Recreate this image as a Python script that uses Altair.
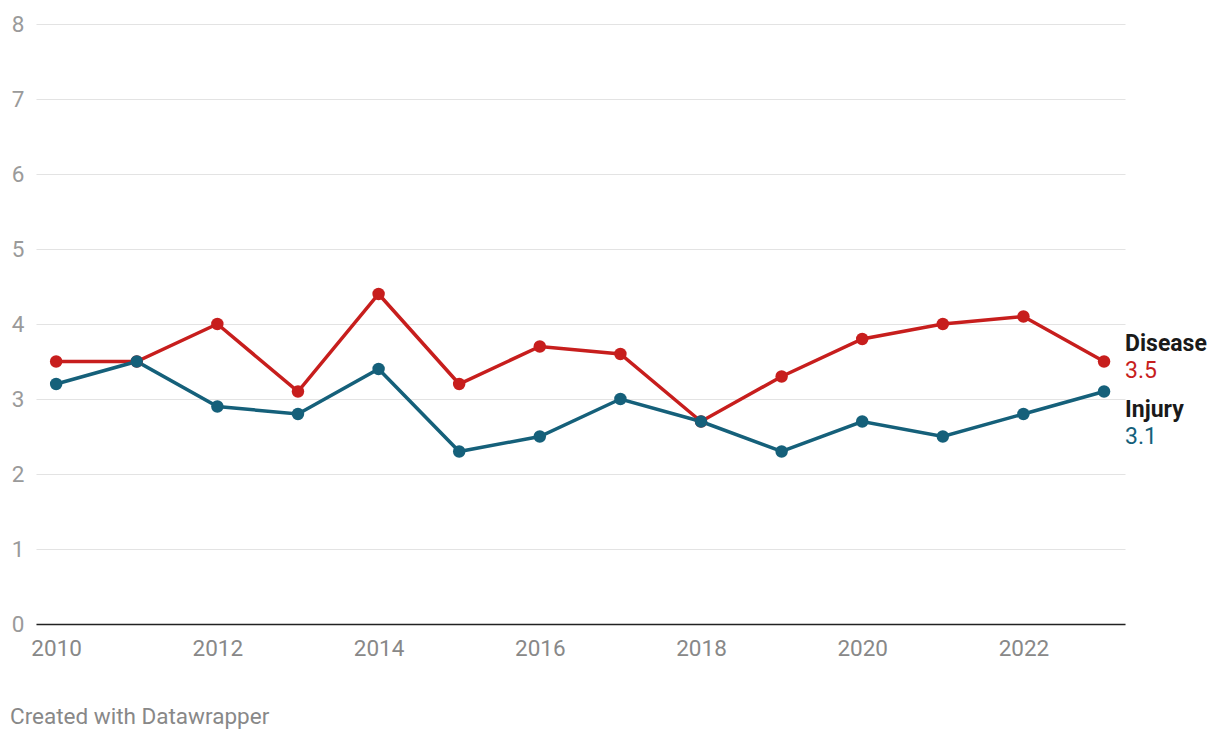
import altair as alt
import pandas as pd

years = list(range(2010, 2024))
disease = [3.5, 3.5, 4.0, 3.1, 4.4, 3.2, 3.7, 3.6, 2.7, 3.3, 3.8, 4.0, 4.1, 3.5]
injury = [3.2, 3.5, 2.9, 2.8, 3.4, 2.3, 2.5, 3.0, 2.7, 2.3, 2.7, 2.5, 2.8, 3.1]
series_names = ["Disease", "Injury"]
series_colors = ["#c71e1d", "#15607a"]
x_ticks = [2010, 2012, 2014, 2016, 2018, 2020, 2022]
y_ticks = [0, 1, 2, 3, 4, 5, 6, 7, 8]

rows = []
for name, vals in zip(series_names, [disease, injury]):
    for y, v in zip(years, vals):
        rows.append({"year": y, "value": v, "series": name})
df = pd.DataFrame(rows)
last = df[df["year"] == years[-1]]

FONT = "Roboto"

x = alt.X("year:Q", scale=alt.Scale(domain=[2009.75, 2023.26], nice=False, zero=False),
          axis=alt.Axis(values=x_ticks, format="d", title=None, grid=False, ticks=False,
                        domain=True, domainColor="#222222", domainWidth=1.5,
                        labelFont=FONT, labelFontSize=22.5, labelColor="#888888",
                        labelPadding=13, labelFlush=False))
y = alt.Y("value:Q", scale=alt.Scale(domain=[0, 8], nice=False),
          axis=alt.Axis(values=y_ticks, format="d", title=None, domain=False, ticks=False,
                        grid=True, gridColor="#e3e3e3", gridWidth=1,
                        labelFont=FONT, labelFontSize=22.5, labelColor="#9a9a9a",
                        labelPadding=12, labelAlign="right", labelBaseline="middle"))
color = alt.Color("series:N", scale=alt.Scale(domain=series_names, range=series_colors), legend=None)

base = alt.Chart(df)
lines = base.mark_line(strokeWidth=3.5).encode(x=x, y=y, color=color)
points = base.mark_circle(size=155, opacity=1).encode(x=x, y=y, color=color)

lb = alt.Chart(last)
def lab(name, dy, bold, col, field):
    return lb.transform_filter(alt.datum.series == name).mark_text(
        align="left", baseline="middle", dx=21, dy=dy, font=FONT, fontSize=23,
        fontWeight="bold" if bold else "normal", color=col
    ).encode(x=alt.X("year:Q"), y=alt.Y("value:Q"), text=field)

labels = [
    lab("Disease", -18, True, "#1a1a1a", alt.Text("series:N")),
    lab("Disease", 9, False, series_colors[0], alt.Text("value:Q", format=".1f")),
    lab("Injury", 18.5, True, "#1a1a1a", alt.Text("series:N")),
    lab("Injury", 45.5, False, series_colors[1], alt.Text("value:Q", format=".1f")),
]

chart = alt.layer(lines, points, *labels).properties(
    width=1089, height=600,
    autosize=alt.AutoSizeParams(type="none"),
    padding={"left": 28, "top": 16, "right": 87, "bottom": 108},
    title=alt.TitleParams("Created with Datawrapper", orient="bottom", anchor="start",
                          frame="group", dx=-26, offset=46, font=FONT, fontSize=22.5,
                          fontWeight="normal", color="#888888"),
).configure(background="white").configure_view(stroke=None)

chart.save("out.html", embed_options={"renderer": "svg", "actions": False})
